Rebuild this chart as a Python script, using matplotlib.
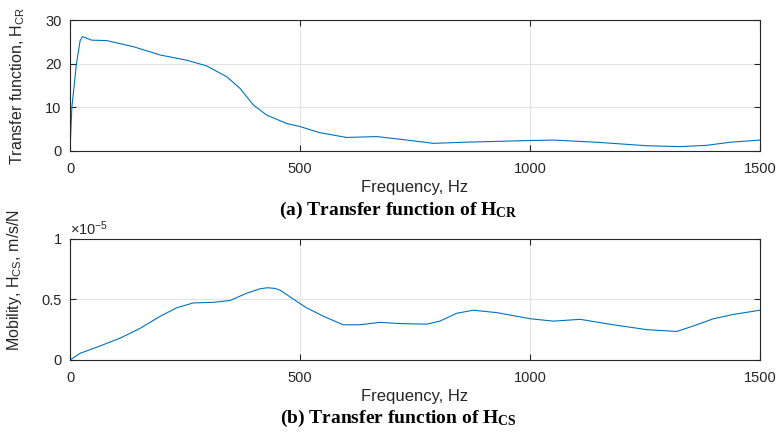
import matplotlib
matplotlib.use('Agg')
import matplotlib.pyplot as plt

plt.rcParams['font.family'] = 'Liberation Sans'
plt.rcParams['mathtext.fontset'] = 'custom'
plt.rcParams['mathtext.rm'] = 'Liberation Sans'
plt.rcParams['mathtext.it'] = 'Liberation Sans'
plt.rcParams['mathtext.bf'] = 'Liberation Serif:bold'

# Transfer function H_CR vs frequency
f_cr = [0, 4, 14, 22, 27, 35, 47, 80, 138, 196, 254, 297, 341, 370, 399, 428, 471, 500,
        543, 601, 667, 717, 790, 855, 928, 1000, 1051, 1145, 1254, 1326, 1384, 1435, 1500]
h_cr = [0, 10, 20, 25.3, 26.2, 25.9, 25.4, 25.3, 23.9, 22.0, 20.8, 19.5, 17.0, 14.3, 10.5, 8.2,
        6.3, 5.6, 4.2, 3.1, 3.3, 2.7, 1.75, 2.0, 2.2, 2.4, 2.5, 2.0, 1.2, 1.0, 1.3, 2.0, 2.5]

# Mobility H_CS (x 1e-5 m/s/N)
f_cs = [0, 22, 65, 109, 152, 196, 232, 268, 312, 348, 384, 412, 428, 445, 457, 486, 514,
        551, 594, 630, 674, 717, 775, 804, 841, 877, 928, 1000, 1051, 1109, 1181, 1254,
        1319, 1355, 1399, 1442, 1500]
h_cs = [0, 0.055, 0.115, 0.18, 0.26, 0.36, 0.43, 0.47, 0.475, 0.49, 0.55, 0.585, 0.595,
        0.59, 0.575, 0.50, 0.43, 0.36, 0.29, 0.29, 0.31, 0.30, 0.295, 0.32, 0.385, 0.41,
        0.39, 0.34, 0.32, 0.335, 0.29, 0.25, 0.235, 0.28, 0.34, 0.375, 0.41]

blue = '#0072BD'
grey = '#262626'

fig = plt.figure(figsize=(7.77, 4.32), dpi=100)
ax1 = fig.add_axes([0.0901, 0.6505, 0.888, 0.303])
ax2 = fig.add_axes([0.0901, 0.1667, 0.888, 0.281])

ax1.plot(f_cr, h_cr, color=blue, linewidth=0.8)
ax2.plot(f_cs, h_cs, color=blue, linewidth=0.8)

ax1.set_ylim(0, 30)
ax1.set_yticks([0, 10, 20, 30])
ax2.set_ylim(0, 1)
ax2.set_yticks([0, 0.5, 1])
ax2.set_yticklabels(['0', '0.5', '1'])

for ax in (ax1, ax2):
    ax.set_xlim(0, 1500)
    ax.set_xticks([0, 500, 1000, 1500])
    ax.grid(True, color='#e3e3e3', linewidth=0.8)
    ax.set_axisbelow(True)
    ax.tick_params(direction='in', top=True, right=True, length=4, width=0.8,
                   colors=grey, labelsize=10.5, labelcolor=grey)
    ax.tick_params(axis='x', pad=8)
    ax.tick_params(axis='y', pad=6)
    for s in ax.spines.values():
        s.set_color(grey)
        s.set_linewidth(0.8)
    ax.set_xlabel('Frequency, Hz', fontsize=12, color=grey, labelpad=3)

ax1.set_ylabel(r'Transfer function, H$_{\mathrm{CR}}$', fontsize=11.5, color=grey)
ax2.set_ylabel(r'Mobility, H$_{\mathrm{CS}}$, m/s/N', fontsize=11.5, color=grey)
ax1.yaxis.set_label_coords(-0.062, 0.5)
ax2.yaxis.set_label_coords(-0.066, 0.66)

ax2.text(0.0, 1.005, r'$\times 10^{-5}$', transform=ax2.transAxes, fontsize=10.5,
         color=grey, ha='left', va='bottom')

fig.text(0.513, 0.514, r'(a) Transfer function of $\mathbf{H_{CR}}$', fontsize=14,
         family='Liberation Serif', weight='bold', ha='center', va='center')
fig.text(0.513, 0.032, r'(b) Transfer function of $\mathbf{H_{CS}}$', fontsize=14,
         family='Liberation Serif', weight='bold', ha='center', va='center')

fig.savefig('out.png', dpi=100)
